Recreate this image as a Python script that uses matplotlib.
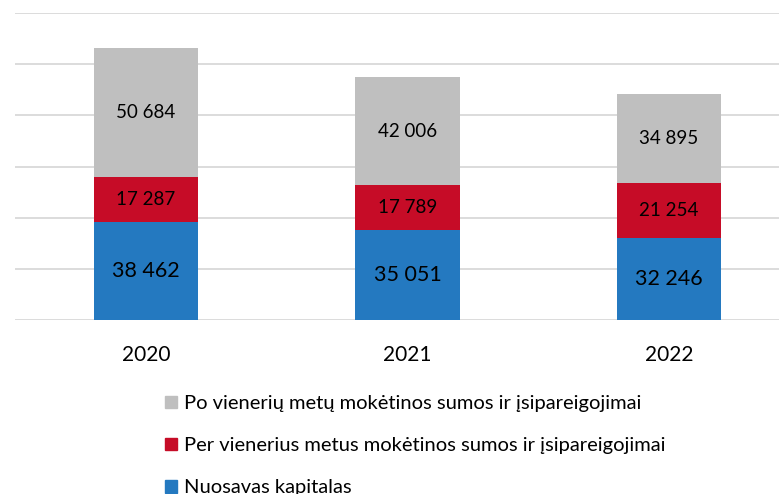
import numpy as np
import matplotlib.pyplot as plt
from matplotlib.patches import Patch

plt.rcParams['font.family'] = ['Lato', 'DejaVu Sans']

# Duomenys
metai = ['2020', '2021', '2022']
kapitalas = [38462, 35051, 32246]
per_metus = [17287, 17789, 21254]
po_metu = [50684, 42006, 34895]

serijos = [
    ('Nuosavas kapitalas', kapitalas, '#2479C0', 15.5),
    ('Per vienerius metus mokėtinos sumos ir įsipareigojimai', per_metus, '#C60C27', 13.5),
    ('Po vienerių metų mokėtinos sumos ir įsipareigojimai', po_metu, '#BFBFBF', 13.5),
]

def tarpas(v):
    return f"{v:,}".replace(",", " ")

fig = plt.figure(figsize=(7.79, 4.94), dpi=100)
ax = fig.add_axes([15.25 / 779, 174 / 494, 784.5 / 779, 307 / 494])

x = np.arange(len(metai))
apacia = np.zeros(len(metai))
rankenos = []
for pav, reiksmes, spalva, dydis in serijos:
    bars = ax.bar(x, reiksmes, width=0.4, bottom=apacia, color=spalva, zorder=3)
    ax.bar_label(bars, labels=[tarpas(v) for v in reiksmes], label_type='center',
                 fontsize=dydis, color='black')
    apacia += np.array(reiksmes)
    rankenos.append(Patch(color=spalva, label=pav))

ax.set_xlim(-0.5, 2.5)
ax.set_ylim(0, 120000)
ax.set_yticks(np.arange(0, 120001, 20000))
ax.yaxis.grid(True, color='#D9D9D9', linewidth=1.3, zorder=0)
ax.set_yticklabels([])
ax.tick_params(axis='y', length=0)
ax.tick_params(axis='x', length=0, labelsize=15, pad=18)
ax.set_xticks(x)
ax.set_xticklabels(metai)
for s in ax.spines.values():
    s.set_visible(False)

fig.legend(handles=rankenos[::-1], loc='upper left',
           bbox_to_anchor=(165 / 779, 1 - 395 / 494), frameon=False,
           fontsize=14.5, handlelength=0.6, handleheight=0.6, handletextpad=0.35,
           labelspacing=1.25, borderpad=0, borderaxespad=0)

fig.savefig('out.png', dpi=100)
